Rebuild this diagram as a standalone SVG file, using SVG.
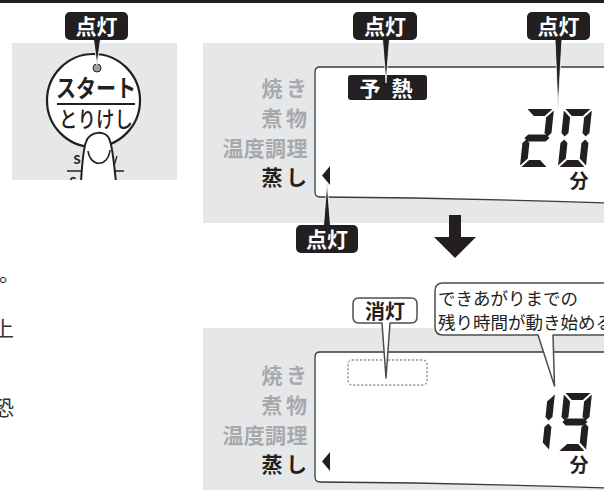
<svg xmlns="http://www.w3.org/2000/svg" width="604" height="495" viewBox="0 0 604 495">
  <style>
    .jp { font-family: "Noto Sans CJK JP", "Noto Sans", sans-serif; }
    .panel { fill: #e6e7e8; }
    .lcd { fill: #ffffff; stroke: #3a3a3a; stroke-width: 1.3; }
    .tag { fill: #231f20; }
    .tag-text { fill: #ffffff; font-size: 21px; font-weight: 700; text-anchor: middle; }
    .mode { font-size: 21px; font-weight: 700; text-anchor: middle; fill: #a7a9ac; }
    .mode-on { fill: #231f20; }
    .unit { font-size: 19px; font-weight: 700; text-anchor: middle; fill: #231f20; }
    .seg { fill: #231f20; }
    .pointer { fill: #231f20; stroke: #ffffff; stroke-width: 0.8; }
    .callout { fill: #ffffff; stroke: #4d4d4d; stroke-width: 1.5; stroke-linejoin: round; }
    .body { font-size: 21px; fill: #333333; }
  </style>
  <defs>
    <!-- seven-segment pieces, digit box 28 x 58 -->
    <polygon id="sa" points="1.5,0 26.5,0 19.5,7 8.5,7"/>
    <polygon id="sb" points="28,1.5 21,8.5 21,24 24.5,27.5 28,24"/>
    <polygon id="sc" points="28,56.5 21,49.5 21,34 24.5,30.5 28,34"/>
    <polygon id="sd" points="1.5,58 26.5,58 19.5,51 8.5,51"/>
    <polygon id="se" points="0,56.5 7,49.5 7,34 3.5,30.5 0,34"/>
    <polygon id="sf" points="0,1.5 7,8.5 7,24 3.5,27.5 0,24"/>
    <polygon id="sg" points="1.5,29 5,25.5 23,25.5 26.5,29 23,32.5 5,32.5"/>
    <clipPath id="startClip"><rect x="12" y="43" width="165" height="137"/></clipPath>
  </defs>

  <!-- top rule -->
  <rect x="0" y="0" width="604" height="3" fill="#231f20"/>

  <!-- body text running in from the left edge -->
  <g id="body-text" class="jp body">
    <text x="-1" y="281">。</text>
    <text x="-7" y="336">上</text>
    <text x="-7" y="415">恐</text>
  </g>

  <!-- start / cancel button panel -->
  <g id="start-panel">
    <rect class="panel" x="12" y="43" width="165" height="137"/>
    <g clip-path="url(#startClip)">
      <g class="jp" fill="#231f20">
        <text x="77" y="164" font-size="12" font-weight="700" text-anchor="middle">S</text>
        <text x="73" y="186" font-size="12" font-weight="700" text-anchor="middle">S</text>
      </g>
      <line x1="67" y1="171" x2="83" y2="171" stroke="#231f20" stroke-width="1.5"/>
      <line x1="112" y1="171" x2="124" y2="171" stroke="#231f20" stroke-width="1.5"/>
      <line x1="117" y1="156" x2="114" y2="166" stroke="#231f20" stroke-width="1.3"/>
      <circle cx="93.5" cy="100.5" r="46.5" fill="#ffffff" stroke="#231f20" stroke-width="2.2"/>
      <text class="jp" x="96" y="97" font-size="24" font-weight="700" text-anchor="middle" textLength="80" lengthAdjust="spacingAndGlyphs" fill="#231f20">スタート</text>
      <line x1="57" y1="104" x2="135" y2="104" stroke="#231f20" stroke-width="2.2"/>
      <text class="jp" x="96" y="127" font-size="22" font-weight="500" text-anchor="middle" textLength="74" lengthAdjust="spacingAndGlyphs" fill="#231f20">とりけし</text>
      <!-- finger -->
      <path d="M 81 182 C 82 165 83 150 86 142 C 89 131 107 129 110 141 C 113 150 114 165 116 182 Z" fill="#ffffff" stroke="#231f20" stroke-width="2"/>
      <path d="M 88 151 C 90 167 108 168 110 150" fill="none" stroke="#231f20" stroke-width="1.6"/>
    </g>
    <circle cx="97" cy="68" r="4" fill="#9d9fa2" stroke="#231f20" stroke-width="1"/>
  </g>

  <!-- display while preheating -->
  <g id="display-before">
    <rect class="panel" x="203" y="43" width="401" height="180"/>
    <path class="lcd" d="M 606 67 L 320 67 Q 315 67 315 72 L 315 192 Q 315 197 320 197 Q 460 198 606 203"/>
    <g class="jp mode">
      <text x="272 296.5" y="96">焼き</text>
      <text x="272 296.5" y="126">煮物</text>
      <text x="233 254.3 275.6 296.9" y="156">温度調理</text>
      <text class="mode-on" x="272 296.5" y="185">蒸し</text>
    </g>
    <polygon points="322,175.5 330,166 330,185" fill="#231f20"/>
    <rect x="348" y="75" width="79" height="25" rx="3" fill="#231f20"/>
    <text class="jp tag-text" x="370 402" y="95.5">予熱</text>
    <use href="#sa" class="seg" transform="translate(526 109) skewX(-6)"/>
    <use href="#sb" class="seg" transform="translate(526 109) skewX(-6)"/>
    <use href="#sg" class="seg" transform="translate(526 109) skewX(-6)"/>
    <use href="#se" class="seg" transform="translate(526 109) skewX(-6)"/>
    <use href="#sd" class="seg" transform="translate(526 109) skewX(-6)"/>
    <use href="#sa" class="seg" transform="translate(564 109) skewX(-6)"/>
    <use href="#sb" class="seg" transform="translate(564 109) skewX(-6)"/>
    <use href="#sc" class="seg" transform="translate(564 109) skewX(-6)"/>
    <use href="#sd" class="seg" transform="translate(564 109) skewX(-6)"/>
    <use href="#se" class="seg" transform="translate(564 109) skewX(-6)"/>
    <use href="#sf" class="seg" transform="translate(564 109) skewX(-6)"/>
    <text class="jp unit" x="579" y="188">分</text>
  </g>

  <!-- display once cooking starts -->
  <g id="display-after">
    <rect class="panel" x="203" y="328" width="401" height="162"/>
    <path class="lcd" d="M 606 352 L 320 352 Q 315 352 315 357 L 315 477 Q 315 482 320 482 Q 460 483 606 488"/>
    <g class="jp mode">
      <text x="272 296.5" y="382.5">焼き</text>
      <text x="272 296.5" y="412.5">煮物</text>
      <text x="233 254.3 275.6 296.9" y="442.5">温度調理</text>
      <text class="mode-on" x="272 296.5" y="471.5">蒸し</text>
    </g>
    <polygon points="322,461.5 330,452 330,471" fill="#231f20"/>
    <rect x="348" y="360" width="79" height="25" rx="4" fill="none" stroke="#555555" stroke-width="1" stroke-dasharray="2 2"/>
    <use href="#sb" class="seg" transform="translate(527 393) skewX(-6)"/>
    <use href="#sc" class="seg" transform="translate(527 393) skewX(-6)"/>
    <use href="#sa" class="seg" transform="translate(564 393) skewX(-6)"/>
    <use href="#sb" class="seg" transform="translate(564 393) skewX(-6)"/>
    <use href="#sc" class="seg" transform="translate(564 393) skewX(-6)"/>
    <use href="#sd" class="seg" transform="translate(564 393) skewX(-6)"/>
    <use href="#sf" class="seg" transform="translate(564 393) skewX(-6)"/>
    <use href="#sg" class="seg" transform="translate(564 393) skewX(-6)"/>
    <text class="jp unit" x="579" y="472">分</text>
  </g>

  <!-- pointers and step arrow -->
  <g id="connectors">
    <polygon class="pointer" points="93.5,39 100.5,39 97,65"/>
    <polygon class="pointer" points="382.5,39 389.5,39 386,83"/>
    <polygon class="pointer" points="555,39 562,39 558,108"/>
    <polygon class="pointer" points="323.5,226 330.5,226 327,182"/>
    <polygon points="449,215 461,215 461,237 476,237 455,258 434,237 449,237" fill="#231f20"/>
  </g>

  <!-- black "lit" tags -->
  <g id="tag-start">
    <rect class="tag" x="65" y="12" width="63" height="28" rx="5"/>
    <text class="jp tag-text" x="96.5" y="34">点灯</text>
  </g>
  <g id="tag-preheat">
    <rect class="tag" x="353" y="12" width="64" height="28" rx="5"/>
    <text class="jp tag-text" x="385" y="34">点灯</text>
  </g>
  <g id="tag-time">
    <rect class="tag" x="527" y="12" width="63" height="28" rx="5"/>
    <text class="jp tag-text" x="558.5" y="34">点灯</text>
  </g>
  <g id="tag-steam">
    <rect class="tag" x="296" y="225" width="62" height="28" rx="5"/>
    <text class="jp tag-text" x="327" y="247">点灯</text>
  </g>

  <!-- white callouts -->
  <g id="callout-off">
    <path class="callout" d="M 359 298 H 411 Q 417 298 417 304 V 317 Q 417 323 411 323 H 390 L 386 378 L 382 323 H 359 Q 353 323 353 317 V 304 Q 353 298 359 298 Z"/>
    <text class="jp" x="385" y="318.5" font-size="20" font-weight="700" text-anchor="middle" fill="#231f20">消灯</text>
  </g>
  <g id="callout-remaining">
    <path class="callout" d="M 443 283 H 620 V 335 H 553 L 554.5 386 L 538 335 H 443 Q 435 335 435 327 V 291 Q 435 283 443 283 Z"/>
    <g class="jp" font-size="17.5" fill="#231f20">
      <text x="438" y="305">できあがりまでの</text>
      <text x="438" y="329">残り時間が動き始める</text>
    </g>
  </g>
</svg>
